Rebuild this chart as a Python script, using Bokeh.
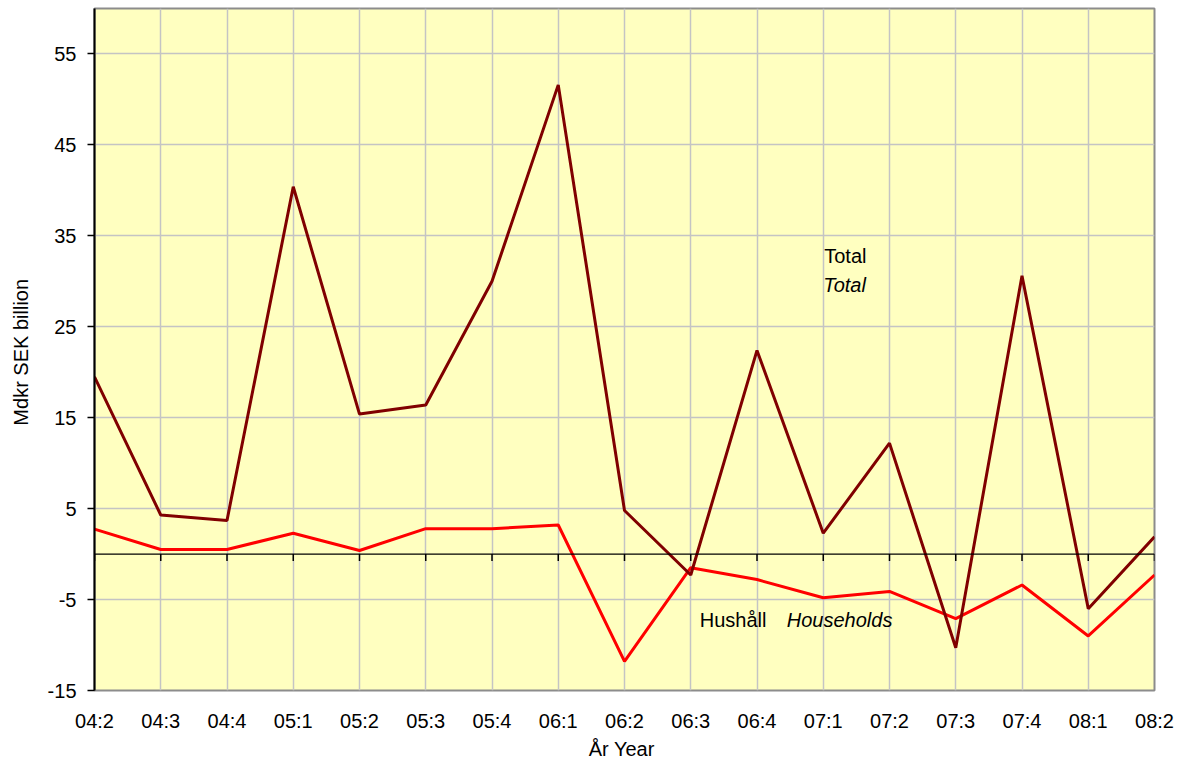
from bokeh.plotting import figure
from bokeh.models import Range1d, FixedTicker, Label, Span
from bokeh.embed import file_html
from bokeh.resources import INLINE

categories = ["04:2", "04:3", "04:4", "05:1", "05:2", "05:3", "05:4", "06:1", "06:2",
              "06:3", "06:4", "07:1", "07:2", "07:3", "07:4", "08:1", "08:2"]
total = [19.5, 4.3, 3.7, 40.4, 15.4, 16.4, 30.0, 51.6, 4.8, -2.3, 22.4, 2.3, 12.2, -10.3, 30.6, -6.0, 1.9]
households = [2.75, 0.5, 0.5, 2.3, 0.4, 2.8, 2.8, 3.2, -11.8, -1.5, -2.8, -4.8, -4.1, -7.1, -3.4, -9.0, -2.3]
y_ticks = [-15, -5, 5, 15, 25, 35, 45, 55]

FONT = "Liberation Sans"
xs = list(range(len(categories)))

p = figure(width=1183, height=762, x_range=Range1d(0, len(categories) - 1), y_range=Range1d(-15, 60),
           output_backend="svg", toolbar_location=None,
           min_border_left=94, min_border_right=29, min_border_top=8, min_border_bottom=72)
p.background_fill_color = "#FFFFC0"
p.border_fill_color = "white"
p.outline_line_color = "#8c8c8c"
p.outline_line_width = 2

# grids
p.xgrid.ticker = FixedTicker(ticks=xs)
p.ygrid.ticker = FixedTicker(ticks=y_ticks)
for g in (p.xgrid, p.ygrid):
    g.grid_line_color = "#c4c4c4"
    g.grid_line_width = 1.5

# x axis
p.xaxis.ticker = FixedTicker(ticks=xs)
p.xaxis.major_label_overrides = {i: c for i, c in enumerate(categories)}
p.xaxis.axis_line_color = None
p.xaxis.major_tick_line_color = None
p.xaxis.minor_tick_line_color = None
p.xaxis.major_tick_out = 0
p.xaxis.major_label_standoff = 19
p.xaxis.major_label_text_font = FONT
p.xaxis.major_label_text_font_size = "20px"
p.xaxis.major_label_text_color = "black"
p.xaxis.axis_label = "År  Year"
p.xaxis.axis_label_standoff = 3
p.xaxis.axis_label_text_font = FONT
p.xaxis.axis_label_text_font_size = "20px"
p.xaxis.axis_label_text_font_style = "normal"
p.xaxis.axis_label_text_color = "black"

# y axis
p.yaxis.ticker = FixedTicker(ticks=y_ticks)
p.yaxis.major_label_overrides = {t: str(t) for t in y_ticks}
p.yaxis.axis_line_color = "black"
p.yaxis.axis_line_width = 2
p.yaxis.major_tick_line_color = "black"
p.yaxis.major_tick_line_width = 1.5
p.yaxis.major_tick_out = 7
p.yaxis.major_tick_in = 0
p.yaxis.minor_tick_line_color = None
p.yaxis.major_label_standoff = 11
p.yaxis.major_label_text_font = FONT
p.yaxis.major_label_text_font_size = "20px"
p.yaxis.major_label_text_color = "black"
p.yaxis.axis_label = "Mdkr  SEK billion"
p.yaxis.axis_label_standoff = 13
p.yaxis.axis_label_text_font = FONT
p.yaxis.axis_label_text_font_size = "20px"
p.yaxis.axis_label_text_font_style = "normal"
p.yaxis.axis_label_text_color = "black"

# zero line with downward ticks
p.add_layout(Span(location=0, dimension="width", line_color="black", line_width=1.2))
p.segment(x0=xs, y0=[0] * len(xs), x1=xs, y1=[-0.77] * len(xs), line_color="black", line_width=1.5)

# series
p.line(xs, households, line_color="#FF0000", line_width=3)
p.line(xs, total, line_color="#800000", line_width=3)

def lab(text, x, y, style="normal", xo=0):
    p.add_layout(Label(x=x, y=y, x_offset=xo, text=text, text_font=FONT,
                       text_font_size="20px", text_font_style=style, text_color="black",
                       text_align="left", text_baseline="middle"))

# series annotations
lab("Total", 11, 32.8, xo=1)
lab("Total", 11, 29.6, style="italic", xo=0)
lab("Hushåll", 9, -7.3, xo=9)
lab("Households", 9, -7.3, style="italic", xo=96)

open("out.html", "w").write(file_html(p, INLINE))
